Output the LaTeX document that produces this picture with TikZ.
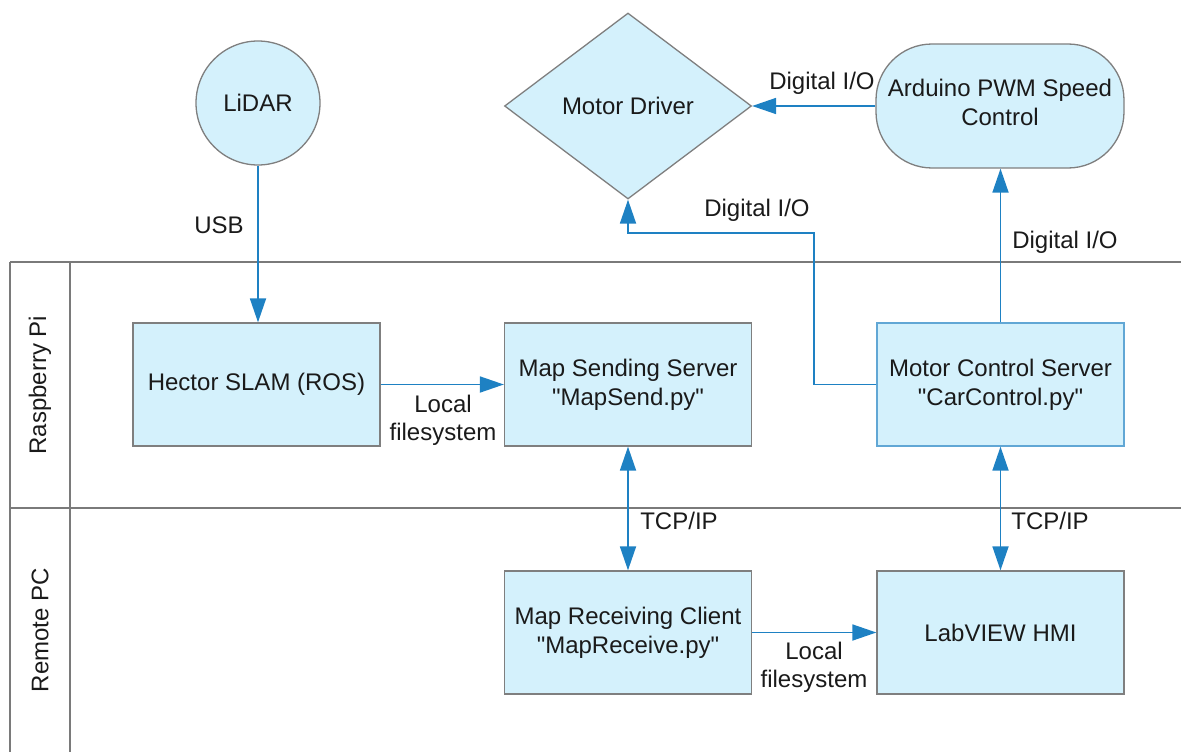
\documentclass[tikz,border=0pt]{standalone}
\usepackage{fontspec}
\setmainfont{Liberation Sans}
\newfontfamily\qfont{Liberation Sans}
\usetikzlibrary{arrows.meta,shapes.geometric}
\definecolor{boxfill}{HTML}{D4F1FC}
\definecolor{boxline}{HTML}{7F7F7F}
\definecolor{arrowblue}{HTML}{1E81C3}
\definecolor{laneline}{HTML}{7A7A7A}
\definecolor{txt}{HTML}{1A1A1A}
\newcommand{\sq}{{\qfont"}}
\tikzset{
  base/.style={draw=boxline, fill=boxfill, line width=1.3pt, text=txt, align=center, inner sep=0pt,
    font=\fontsize{24}{29}\selectfont},
  procbox/.style={base, rectangle, minimum width=247pt, minimum height=123pt},
  arr/.style={draw=arrowblue, line width=1.8pt, -{Triangle[length=24pt,width=16pt]}},
  darr/.style={draw=arrowblue, line width=1.8pt, {Triangle[length=24pt,width=16pt]}-{Triangle[length=24pt,width=16pt]}},
  lbl/.style={text=txt, align=center, font=\fontsize{24}{28}\selectfont, inner sep=0pt},
  lane/.style={draw=laneline, line width=1.2pt}
}
\begin{document}
\begin{tikzpicture}[x=1pt,y=-1pt]
\useasboundingbox (0,0) rectangle (1181,752);
% swimlanes
\draw[lane] (10,262) -- (1181,262);
\draw[lane] (10,508) -- (1181,508);
\draw[lane] (10,262) -- (10,752);
\draw[lane] (70,262) -- (70,752);
\node[lbl, rotate=90] (lanepi) at (40,385) {Raspberry Pi};
\node[lbl, rotate=90] (lanepc) at (40,630) {Remote PC};
% nodes
\node[base, circle, minimum size=124pt] (lidar) at (258,103) {LiDAR};
\node[base, diamond, minimum width=247pt, minimum height=186pt] (driver) at (628,106) {Motor Driver};
\node[base, rectangle, rounded corners=56pt, minimum width=248pt, minimum height=124pt, text depth=8pt] (arduino) at (1000,106) {Arduino PWM Speed\\Control};
\node[procbox] (hector) at (256.5,384.5) {Hector SLAM (ROS)};
\node[procbox] (mapsend) at (628,384.5) {Map Sending Server\\\sq MapSend.py\sq};
\node[procbox, draw=arrowblue!70] (mcs) at (1000.5,384.5) {Motor Control Server\\\sq CarControl.py\sq};
\node[procbox] (maprecv) at (628,632.5) {Map Receiving Client\\\sq MapReceive.py\sq};
\node[procbox] (labview) at (1000.5,632.5) {LabVIEW HMI};
% connectors
\draw[arr] (lidar.south) -- (lidar.south |- hector.north);
\node[lbl] (usb) at (219,225) {USB};
\draw[arr] (arduino.west) -- (driver.east);
\node[lbl] (dio1) at (822,83) {Digital I/O};
\draw[arr] (mcs.north) -- (mcs.north |- arduino.south);
\node[lbl] (dio3) at (1065,242) {Digital I/O};
\coordinate (bend) at (814,233);
\draw[arr] (mcs.west) -| (bend) -| (driver.south);
\node[lbl] (dio2) at (757,210) {Digital I/O};
\draw[arr] (hector.east) -- (mapsend.west);
\node[lbl] (lfs1) at (443,420) {Local\\filesystem};
\draw[darr] (mapsend.south) -- (maprecv.north);
\node[lbl] (tcp1) at (679,521) {TCP/IP};
\draw[darr] (mcs.south) -- (labview.north);
\node[lbl] (tcp2) at (1050,521) {TCP/IP};
\draw[arr] (maprecv.east) -- (labview.west);
\node[lbl] (lfs2) at (814,667) {Local\\filesystem};
\end{tikzpicture}
\end{document}
